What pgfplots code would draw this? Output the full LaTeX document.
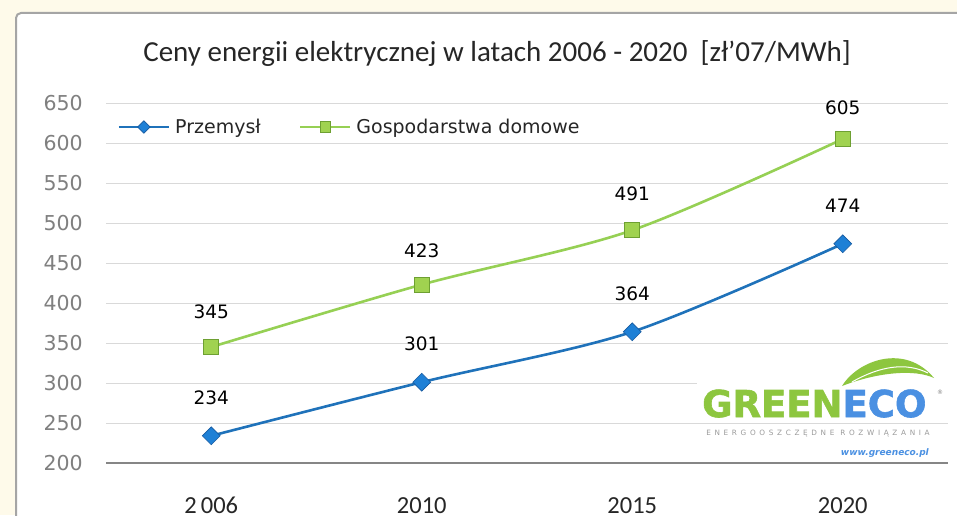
\documentclass[border=0pt]{standalone}
\usepackage{pgfplots}
\pgfplotsset{compat=1.18}
\usepackage{pgfplotstable}
\usepackage{graphicx}
\usepackage{fontspec}
\setmainfont{Carlito}
\newfontfamily\dejavu{DejaVu Sans}
\newfontfamily\logofont{DejaVu Sans}[FakeBold=1.6]
\newfontfamily\logosub{DejaVu Sans}[LetterSpace=50]

\definecolor{cream}{RGB}{254,250,234}
\definecolor{panelborder}{RGB}{165,165,165}
\definecolor{gridgray}{RGB}{217,217,217}
\definecolor{axisgray}{RGB}{134,134,134}
\definecolor{ticktext}{RGB}{128,128,128}
\definecolor{titlecol}{RGB}{38,38,38}
\definecolor{blueline}{RGB}{31,114,186}
\definecolor{bluemark}{RGB}{30,128,214}
\definecolor{bluemarkedge}{RGB}{22,90,160}
\definecolor{greenline}{RGB}{150,208,84}
\definecolor{greenmark}{RGB}{160,210,80}
\definecolor{greenmarkedge}{RGB}{110,160,50}
\definecolor{logogreen}{RGB}{141,198,63}
\definecolor{logoblue}{RGB}{74,144,226}

\pgfplotstableread{
x y s
0 234 38
1 301 38
2 364 38
3 474 38
}\przemysl
\pgfplotstableread{
x y s
0 345 35
1 423 34
2 491 36
3 605 31
}\gosp

\begin{document}
\begin{tikzpicture}
\path[use as bounding box] (0,0) rectangle (957pt,515pt);
\clip (0,0) rectangle (957pt,515pt);
\fill[cream] (0,0) rectangle (957pt,515pt);
\draw[panelborder, line width=2pt, fill=white, rounded corners=5pt] (16pt,-30pt) rectangle (990pt,502pt);
\node[anchor=base, inner sep=0pt, font=\fontsize{29}{33}\selectfont, text=titlecol] at (497pt,453pt) {Ceny energii elektrycznej w latach 2006 - 2020\ \ [zł’07/MWh]};

\begin{axis}[
  at={(106pt,52pt)}, anchor=south west,
  scale only axis, width=842pt, height=360pt,
  xmin=-0.5, xmax=3.5, ymin=200, ymax=650,
  xtick={0,1,2,3}, xticklabels={2\,006,2010,2015,2020},
  ytick={200,250,...,650},
  axis x line*=bottom, axis y line*=left,
  y axis line style={draw=none},
  x axis line style={draw=axisgray, line width=1.5pt},
  ymajorgrids, grid style={draw=gridgray, line width=1pt},
  major tick length=0pt,
  /pgf/number format/assume math mode=true,
  yticklabel style={anchor=east, inner sep=0pt, xshift=-23pt, text=ticktext, font=\dejavu\fontsize{20.5}{24}\selectfont},
  xticklabel style={anchor=north, inner sep=0pt, yshift=-34pt, text=titlecol, font=\fontsize{24.5}{28}\selectfont},
  clip=false,
  legend columns=2,
  legend style={at={(axis cs:-0.446,620)}, anchor=west, draw=none, fill=none, inner sep=0pt,
    font=\dejavu\fontsize{19}{22}\selectfont, text=titlecol,
    /tikz/every even column/.append style={column sep=36pt}},
  legend image code/.code={\draw[mark repeat=2, mark phase=2, #1, every mark/.append style={scale=0.7}] plot coordinates {(0pt,0pt) (25pt,0pt) (50pt,0pt)};},
  nodes near coords,
  visualization depends on={\thisrow{s}\as\sh},
  every node near coord/.append style={anchor=center, yshift=\sh pt, text=black, font=\dejavu\fontsize{18.5}{22}\selectfont},
]
\addplot[blueline, line width=2.6pt, smooth, mark=square*, mark size=6.3pt,
  mark options={rotate=45, fill=bluemark, draw=bluemarkedge, line width=0.6pt}]
  table[x=x, y=y] {\przemysl};
\addlegendentry{\hspace{3pt}Przemysł}
\addplot[greenline, line width=2.6pt, smooth, mark=square*, mark size=7.5pt,
  mark options={fill=greenmark, draw=greenmarkedge, line width=0.6pt}]
  table[x=x, y=y] {\gosp};
\addlegendentry{\hspace{3pt}Gospodarstwa domowe}
\end{axis}

% logo
\begin{scope}[shift={(0,515pt)}, x=1pt, y=-1pt]
\fill[white] (697,352) rectangle (957,419);
\fill[logogreen] (842,386) .. controls (858,360) and (905,343) .. (934,378) .. controls (915,369) and (878,372) .. (842,386) -- cycle;
\draw[white, line width=1pt] (852,382) .. controls (880,366) and (906,362) .. (928,373);
\node[anchor=base west, inner sep=0pt, font=\logofont\bfseries\fontsize{37}{40}\selectfont] at (702,417) {\textcolor{logogreen}{GREEN}\textcolor{logoblue}{ECO}};
\node[anchor=center, inner sep=0pt, text=ticktext, font=\dejavu\fontsize{6}{7}\selectfont] at (940,392) {®};
\node[anchor=center, inner sep=0pt, text=ticktext!80, font=\logosub\fontsize{7.3}{8}\selectfont] at (818,433) {ENERGOOSZCZĘDNE ROZWIĄZANIA};
\node[anchor=east, inner sep=0pt, text=logoblue, font=\dejavu\bfseries\itshape\fontsize{9}{10}\selectfont] at (929,453) {www.greeneco.pl};
\end{scope}
\end{tikzpicture}
\end{document}
